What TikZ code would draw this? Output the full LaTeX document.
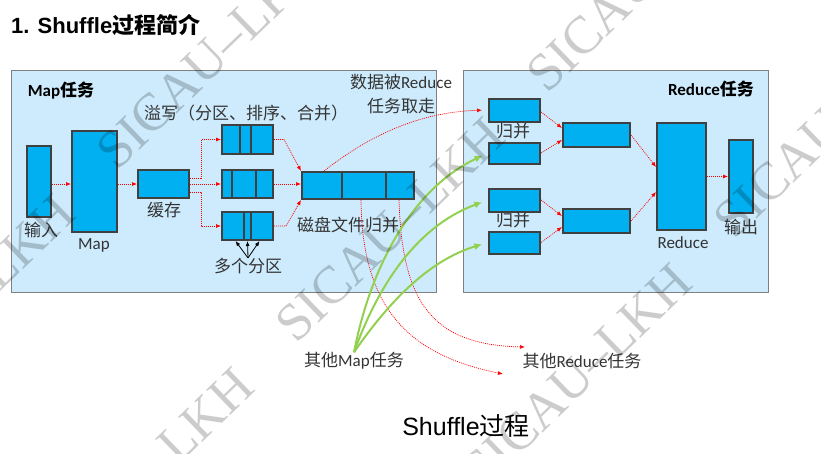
\documentclass[tikz,border=0pt]{standalone}
\usepackage{fontspec}
\setmainfont{Carlito}
\newfontfamily\zh{Noto Sans CJK SC}
\newfontfamily\arial{Liberation Sans}
\newfontfamily\wmfont{Liberation Serif}
\usetikzlibrary{arrows.meta,calc}
\definecolor{BoxClr}{RGB}{0,176,240}
\definecolor{EdgeClr}{RGB}{64,64,64}
\definecolor{PanelClr}{RGB}{205,235,252}
\definecolor{FrameClr}{RGB}{128,128,128}
\definecolor{GreenClr}{RGB}{146,208,80}
\tikzset{
  blk/.style={draw=EdgeClr,fill=BoxClr,line width=2pt,inner sep=0pt},
  panel/.style={draw=FrameClr,fill=PanelClr,line width=1pt},
  dotarr/.style={red,line width=0.7pt,dash pattern=on 1pt off 1pt,-{Latex[length=5pt,width=4pt]}},
  grarr/.style={GreenClr,line width=2pt,-{Latex[length=8pt,width=7pt]}},
  blkarr/.style={black,line width=0.8pt,-{Latex[length=5pt,width=4pt]}},
  lbl/.style={font=\fontsize{17}{20}\selectfont,text=black!80,inner sep=0pt},
  wm/.style={font=\wmfont\fontsize{53}{60}\selectfont,text=black,text opacity=0.2,rotate=44}
}

\begin{document}
\begin{tikzpicture}[x=1pt,y=-1pt]
\useasboundingbox (0,0) rectangle (821,453);
\clip (0,0) rectangle (821,453);

% title
\node[anchor=west,inner sep=0pt,font=\fontsize{22}{26}\selectfont\bfseries] (ttl) at (11,25) {{\arial 1. Shuffle}{\zh 过程简介}};

% the two tasks
\draw[panel] (11,70) rectangle (436,292);
\draw[panel] (463,70) rectangle (768,292);
\node[lbl,font=\fontsize{17}{20}\selectfont\bfseries,text=black] (maptask) at (61,91) {Map{\zh 任务}};
\node[lbl,font=\fontsize{17}{20}\selectfont\bfseries,text=black] (redtask) at (711,89) {Reduce{\zh 任务}};

% map side
\node[blk,minimum width=24pt,minimum height=71pt] (in) at (39,181.5) {};
\node[blk,minimum width=45pt,minimum height=101pt] (map) at (94.5,181.5) {};
\node[blk,minimum width=51pt,minimum height=28pt] (buf) at (163.5,184) {};
\node[blk,minimum width=51pt,minimum height=29pt] (p1) at (247.5,139.5) {};
\node[blk,minimum width=51pt,minimum height=28pt] (p2) at (247.5,184) {};
\node[blk,minimum width=51pt,minimum height=28pt] (p3) at (247.5,226) {};
\node[blk,minimum width=112pt,minimum height=27pt] (mf) at (358,185.5) {};
\foreach \b/\d in {p1/19,p1/30,p2/11,p2/35,p3/23,p3/30,mf/41,mf/85}
  \draw[EdgeClr,line width=1.6pt] ($(\b.north west)+(\d,0)$) -- ($(\b.south west)+(\d,0)$);

\node[lbl] (inlbl) at (41,230) {\zh 输入};
\node[lbl] (maplbl) at (94,245) {Map};
\node[lbl] (buflbl) at (164,210) {\zh 缓存};
\node[lbl] (spill) at (246,113) {\zh 溢写（分区、排序、合并）};
\node[lbl] (parts) at (248,266) {\zh 多个分区};
\node[lbl] (merge) at (348,225) {\zh 磁盘文件归并};
\node[lbl] (fetch1) at (401,82) {{\zh 数据被}Reduce};
\node[lbl] (fetch2) at (401,106) {\zh 任务取走};

\draw[dotarr] (in.east |- buf) -- (map.west |- buf);
\draw[dotarr] (map.east |- buf) -- (buf.west);
\draw[dotarr] ($(buf.east)+(0,-6)$) -- ++(11,0) |- (p1.west);
\draw[dotarr] (buf.east) -- (p2.west);
\draw[dotarr] ($(buf.east)+(0,8)$) -- ++(11,0) |- (p3.west);
\draw[dotarr] (p1.east) -- ++(10,0) -- (mf.north west);
\draw[dotarr] (p2.east) -- (mf.west |- p2);
\draw[dotarr] (p3.east) -- ++(12,0) -- (mf.south west);
\foreach \d in {-12,0,12}
  \draw[blkarr] (parts.north) -- ($(p3.south)+(\d,0)$);

% reduce side
\node[blk,minimum width=51pt,minimum height=23pt] (s1) at (514.5,110) {};
\node[blk,minimum width=51pt,minimum height=21pt] (s2) at (514.5,153) {};
\node[blk,minimum width=51pt,minimum height=23pt] (s3) at (514.5,200) {};
\node[blk,minimum width=51pt,minimum height=22pt] (s4) at (514.5,242.5) {};
\node[blk,minimum width=67pt,minimum height=24pt] (m1) at (596.5,135) {};
\node[blk,minimum width=67pt,minimum height=24pt] (m2) at (596.5,221) {};
\node[blk,minimum width=49pt,minimum height=107pt] (red) at (681.5,176.5) {};
\node[blk,minimum width=24pt,minimum height=73pt] (out) at (741,176.5) {};

\node[lbl] (mrg1) at (513,131) {\zh 归并};
\node[lbl] (mrg2) at (513,220) {\zh 归并};
\node[lbl] (redlbl) at (683,243) {Reduce};
\node[lbl] (outlbl) at (741,227) {\zh 输出};

\draw[dotarr] ($(s1.east)+(0,2)$) -- ($(m1.west)+(0,-7)$);
\draw[dotarr] (s2.east) -- ($(m1.west)+(0,5)$);
\draw[dotarr] (s3.east) -- ($(m2.west)+(0,-5)$);
\draw[dotarr] (s4.east) -- ($(m2.west)+(0,6)$);
\draw[dotarr] (m1.east) -- ($(red.west)+(0,-9.5)$);
\draw[dotarr] (m2.east) -- ($(red.west)+(0,15.5)$);
\draw[dotarr] (red.east) -- (out.west);

% shuffle between tasks
\node[lbl] (othmap) at (354,361) {{\zh 其他}Map{\zh 任务}};
\node[lbl] (othred) at (582,361) {{\zh 其他}Reduce{\zh 任务}};
\coordinate (toA) at (503,374);
\coordinate (toB) at (525,347);

\draw[dotarr,shorten >=6pt] ($(mf.north west)+(23,0)$) .. controls (370,135) and (420,112) .. (s1.west);
\draw[dotarr] ($(mf.south west)+(60,0)$) .. controls (362,310) and (410,355) .. (toA);
\draw[dotarr] ($(mf.south west)+(98,0)$) .. controls (402,300) and (430,345) .. (toB);

\draw[grarr,shorten >=6pt] (othmap.north) .. controls (370,270) and (410,190) .. (s2.west);
\draw[grarr,shorten >=6pt] (othmap.north) .. controls (380,280) and (420,225) .. (s3.west);
\draw[grarr,shorten >=6pt] (othmap.north) .. controls (390,300) and (430,260) .. (s4.west);

\node[inner sep=0pt,font=\arial\fontsize{25}{30}\selectfont] (cap) at (466,426) {Shuffle{\zh 过程}};

% watermark
\foreach \p in {(139,480),(390,230),(641,-20),(-40,307),(211,57),(577,376),(828,126)}
  \node[wm] at \p {SICAU–LKH};
\end{tikzpicture}
\end{document}
